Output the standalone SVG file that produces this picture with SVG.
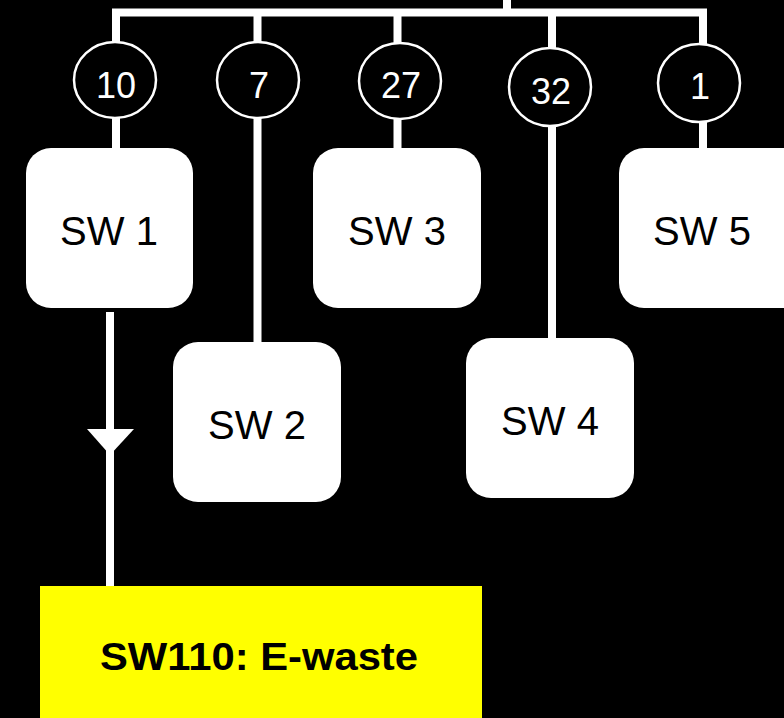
<svg xmlns="http://www.w3.org/2000/svg" width="784" height="718" viewBox="0 0 784 718">
<style>
.ln{stroke:#fff;stroke-width:8;fill:none}
.cir{fill:#000;stroke:#fff;stroke-width:2.5}
.num{fill:#fff;font-family:"Liberation Sans",Arial,sans-serif;font-size:36px;text-anchor:middle}
.box{fill:#fff}
.lbl{fill:#000;font-family:"Liberation Sans",Arial,sans-serif;font-size:40px;text-anchor:middle}
</style>
<rect width="784" height="718" fill="#000"/>
<g id="connectors">
<path class="ln" d="M507 0V12.5M112 12.5H707"/>
<path class="ln" d="M116 12.5V148M257.5 12.5V342M397.5 12.5V148M552 12.5V338M703 12.5V148"/>
<path class="ln" d="M110 312V586"/>
<polygon points="87,429 134,429 110,455" fill="#fff"/>
</g>
<g id="c10"><ellipse class="cir" cx="115" cy="80" rx="41" ry="38"/><text class="num" x="116" y="98">10</text></g>
<g id="c7"><ellipse class="cir" cx="258" cy="80" rx="41" ry="38"/><text class="num" x="259" y="98">7</text></g>
<g id="c27"><ellipse class="cir" cx="400" cy="81" rx="41" ry="38"/><text class="num" x="401" y="98">27</text></g>
<g id="c32"><ellipse class="cir" cx="550" cy="87" rx="41" ry="39"/><text class="num" x="551" y="104">32</text></g>
<g id="c1"><ellipse class="cir" cx="699" cy="83" rx="41" ry="39"/><text class="num" x="700" y="99">1</text></g>
<g id="sw1"><rect class="box" x="26" y="148" width="167" height="160" rx="25"/><text class="lbl" x="109" y="245">SW 1</text></g>
<g id="sw2"><rect class="box" x="173" y="342" width="168" height="160" rx="25"/><text class="lbl" x="257" y="439">SW 2</text></g>
<g id="sw3"><rect class="box" x="313" y="148" width="168" height="160" rx="25"/><text class="lbl" x="397" y="245">SW 3</text></g>
<g id="sw4"><rect class="box" x="466" y="338" width="168" height="160" rx="25"/><text class="lbl" x="550" y="435">SW 4</text></g>
<g id="sw5"><rect class="box" x="619" y="148" width="190" height="160" rx="25"/><text class="lbl" x="702" y="245">SW 5</text></g>
<g id="sw110"><rect x="40" y="586" width="442" height="140" fill="#ff0"/><text x="259" y="670" fill="#000" font-family="'Liberation Sans',Arial,sans-serif" font-size="39" font-weight="bold" text-anchor="middle" textLength="318" lengthAdjust="spacingAndGlyphs">SW110: E-waste</text></g>
</svg>
